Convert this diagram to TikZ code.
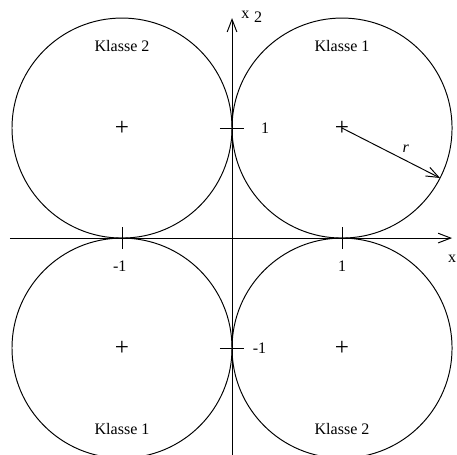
\documentclass[tikz,border=0pt]{standalone}
\usepackage{fontspec}
\setmainfont{Liberation Serif}
\usetikzlibrary{arrows.meta}
\tikzset{
  axisline/.style={-{Straight Barb[length=6.5pt, width=5pt]}, line width=0.5pt},
  tickline/.style={line width=0.5pt},
  classcircle/.style={draw, circle, minimum size=4cm, inner sep=0pt, outer sep=0pt, line width=0.5pt, font=\fontsize{13}{13}\selectfont},
  radiusarrow/.style={-{Straight Barb[length=6.5pt, width=5pt]}, line width=0.5pt},
  ticklabel/.style={inner sep=0pt},
  classlabel/.style={inner sep=0pt}
}

\begin{document}
\begin{tikzpicture}[x=2cm, y=2cm, every node/.style={font=\fontsize{8.3}{10}\selectfont}]
  \path[use as bounding box] (-2.109,-1.964) rectangle (2.045,2.164);
  \clip (-2.109,-1.964) rectangle (2.045,2.164);

  % the four classes
  \node[classcircle] (ur) at (1,1) {+};
  \node[classcircle] (ul) at (-1,1) {+};
  \node[classcircle] (ll) at (-1,-1) {+};
  \node[classcircle] (lr) at (1,-1) {+};

  \node[classlabel] (ktop1) at (1,1.745) {Klasse 1};
  \node[classlabel] (ktop2) at (-1,1.745) {Klasse 2};
  \node[classlabel] (kbot1) at (-1,-1.736) {Klasse 1};
  \node[classlabel] (kbot2) at (1,-1.736) {Klasse 2};

  % axes
  \coordinate (xl) at (-2.02,0);
  \coordinate (xr) at (2,0);
  \coordinate (yb) at (0,-2);
  \coordinate (yt) at (0,2);
  \draw[axisline] (xl) -- (xr);
  \draw[axisline] (yb) -- (yt);
  \node[ticklabel] (xname) at (2.0,-0.19) {x};
  \node[ticklabel] (yname) at (0.18,2.01) {x\hspace{2.5pt}\raisebox{-2pt}{2}};

  \foreach \p in {-1,1} {
    \draw[tickline] (\p,-0.1) -- (\p,0.1);
    \draw[tickline] (-0.11,\p) -- (0.11,\p);
  }
  \node[ticklabel] (xm1) at (-1.02,-0.26) {-1};
  \node[ticklabel] (xp1) at (1,-0.26) {1};
  \node[ticklabel] (yp1) at (0.30,1) {1};
  \node[ticklabel] (ym1) at (0.25,-1) {-1};

  % radius
  \draw[radiusarrow] (ur.center) -- (ur.-27);
  \node[ticklabel] (rname) at (1.58,0.81) {\textit{r}};
\end{tikzpicture}
\end{document}
